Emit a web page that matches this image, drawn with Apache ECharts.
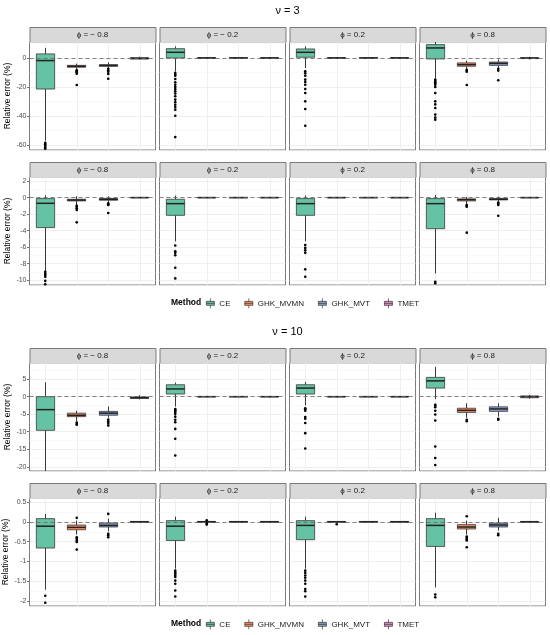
<!DOCTYPE html>
<html>
<head>
<meta charset="utf-8">
<script src="https://cdn.jsdelivr.net/npm/echarts@6/dist/echarts.min.js"></script>
<style>
html, body { margin: 0; padding: 0; background: #fff; }
#chart { width: 550px; height: 635px; }
</style>
</head>
<body>
<div id="chart"></div>
<script>
// methods and facet labels
const methods = ['CE', 'GHK_MVMN', 'GHK_MVT', 'TMET'];
const methodColors = ['#66C2A5', '#FC8D62', '#8DA0CB', '#E78AC3'];
const phiLabels = ['ϕ = − 0.8', 'ϕ = − 0.2', 'ϕ = 0.2', 'ϕ = 0.8'];
const nuLabels = ['ν = 3', 'ν = 10'];

// y ranges per facet row
const rangeR1 = [-63.4, 11];
const rangeR2 = [-10.6, 2.5];
const rangeR3 = [-21.2, 9.6];
const rangeR4 = [-2.12, 0.6];

// boxes: [lower whisker, Q1, median, Q3, upper whisker], panel -> method
const boxesR1 = [
  [[-57, -21.4, -1.8, 2.8, 6.9], [-8, -6.4, -5.7, -5.1, -3.9], [-6.9, -5.7, -5.2, -4.6, -3], [-1.0, -0.7, -0.3, 0.2, 0.9]],
  [[-9.2, 0, 3.9, 6.4, 8], [-0.4, -0.15, 0, 0.15, 0.4], [-0.4, -0.15, 0, 0.15, 0.4], [-0.4, -0.15, 0, 0.15, 0.4]],
  [[-6.9, 0.5, 3.9, 6.2, 8], [-0.4, -0.15, 0, 0.15, 0.4], [-0.4, -0.15, 0, 0.15, 0.4], [-0.4, -0.15, 0, 0.15, 0.4]],
  [[-13.8, -0.7, 6.9, 9.2, 11.5], [-7.4, -5.7, -4.6, -3.4, -1.8], [-6.9, -5.1, -3.7, -2.8, -1.1], [-1.0, -0.4, -0.1, 0.2, 0.8]]
];
const boxesR2 = [
  [[-8.9, -3.64, -0.69, -0.12, 0.28], [-0.9, -0.4, -0.3, -0.2, 0.16], [-0.6, -0.32, -0.2, -0.12, 0.16], [-0.05, -0.02, 0, 0.02, 0.05]],
  [[-5.3, -2.15, -0.73, -0.2, 0.24], [-0.05, -0.02, 0, 0.02, 0.05], [-0.05, -0.02, 0, 0.02, 0.05], [-0.05, -0.02, 0, 0.02, 0.05]],
  [[-5.3, -2.15, -0.73, -0.12, 0.24], [-0.05, -0.02, 0, 0.02, 0.05], [-0.05, -0.02, 0, 0.02, 0.05], [-0.05, -0.02, 0, 0.02, 0.05]],
  [[-9.2, -3.77, -0.73, -0.12, 0.32], [-0.8, -0.4, -0.25, -0.16, 0.08], [-0.5, -0.28, -0.2, -0.12, 0.12], [-0.05, -0.02, 0, 0.02, 0.05]]
];
const boxesR3 = [
  [[-21.5, -9.6, -3.7, 0, 4.1], [-7.0, -5.7, -5.3, -4.7, -4.0], [-6.0, -5.3, -4.7, -4.2, -2.8], [-0.8, -0.5, -0.3, -0.1, 0.4]],
  [[-2.8, 0.75, 2.2, 3.4, 4.0], [-0.15, -0.05, 0, 0.05, 0.15], [-0.15, -0.05, 0, 0.05, 0.15], [-0.15, -0.05, 0, 0.05, 0.15]],
  [[-2.5, 0.75, 2.45, 3.4, 4.2], [-0.15, -0.05, 0, 0.05, 0.15], [-0.15, -0.05, 0, 0.05, 0.15], [-0.15, -0.05, 0, 0.05, 0.15]],
  [[-0.7, 2.45, 4.5, 5.5, 8.5], [-6.0, -4.5, -3.9, -3.3, -1.9], [-5.7, -4.2, -3.5, -2.9, -1.9], [-0.6, -0.3, 0, 0.2, 0.5]]
];
const boxesR4 = [
  [[-1.71, -0.66, -0.11, 0.08, 0.2], [-0.32, -0.2, -0.14, -0.08, 0.03], [-0.24, -0.13, -0.09, -0.03, 0.08], [-0.02, -0.01, 0, 0.01, 0.02]],
  [[-1.18, -0.47, -0.11, 0.03, 0.13], [-0.02, -0.01, 0, 0.01, 0.02], [-0.02, -0.01, 0, 0.01, 0.02], [-0.02, -0.01, 0, 0.01, 0.02]],
  [[-1.18, -0.45, -0.09, 0.03, 0.13], [-0.02, -0.01, 0, 0.01, 0.02], [-0.02, -0.01, 0, 0.01, 0.02], [-0.02, -0.01, 0, 0.01, 0.02]],
  [[-1.65, -0.62, -0.09, 0.08, 0.23], [-0.32, -0.18, -0.13, -0.07, 0.03], [-0.22, -0.13, -0.08, -0.03, 0.1], [-0.02, -0.01, 0, 0.01, 0.02]]
];

// outliers, panel -> method -> values
const outliersR1 = [
  [[-58.5, -59.5, -60.5, -61.5, -62.5], [-8.5, -9, -9.5, -10, -10.8, -18.6], [-7.5, -8.5, -9.5, -11, -14.3], []],
  [[-10.3, -11.5, -12.2, -14.5, -16.8, -18.5, -20, -21.4, -23, -24.5, -26.4, -28.7, -30.5, -32.2, -33.8, -35.6, -39.8, -54.5], [], [], []],
  [[-9.2, -10.5, -12.2, -14.9, -16.5, -18.4, -21.4, -24.1, -29.9, -35.2, -46.7], [], [], []],
  [[-14.9, -15.8, -16.8, -17.6, -18.4, -20, -24.1, -29.9, -32, -34.5, -39, -41, -42.5], [-8.2, -8.8, -9.5, -18.6], [-7.5, -8.7, -15.4], []]
];
const outliersR2 = [
  [[-9.0, -9.2, -9.4, -9.6, -10.1, -10.5], [-1.0, -1.1, -1.3, -1.5, -3.0], [-0.7, -0.8, -0.9, -1.86], []],
  [[-5.8, -6.5, -6.7, -7.0, -8.5, -9.8], [], [], []],
  [[-5.75, -6.1, -6.4, -6.7, -8.7, -9.6], [], [], []],
  [[-10.2, -10.4], [-0.9, -1.0, -1.1, -4.25], [-0.6, -0.7, -0.9, -2.2], []]
];
const outliersR3 = [
  [[], [-7.4, -7.8, -8.0], [-6.5, -7.0, -7.5, -8.2], []],
  [[-3.5, -3.8, -4.0, -4.4, -4.9, -5.7, -6.6, -7.3, -9.2, -12, -16.8], [], [], []],
  [[-3.3, -3.6, -4.0, -5.8, -6.3, -7.5, -10.4, -14.8], [], [], []],
  [[-2.3, -2.6, -3.0, -4.0, -5.1, -6.8, -14.2, -17.5, -19.5], [-6.6, -7.0], [-6.3, -6.6], []]
];
const outliersR4 = [
  [[-1.86, -2.04], [0.1, -0.39, -0.43, -0.47, -0.51, -0.7], [0.2, -0.3, -0.34, -0.39], []],
  [[-1.23, -1.28, -1.31, -1.35, -1.39, -1.48, -1.56, -1.73, -1.88], [0.04, -0.04, -0.07], [], []],
  [[-1.23, -1.29, -1.35, -1.41, -1.48, -1.56, -1.69, -1.75, -1.88], [-0.06], [], []],
  [[-1.83, -1.9], [0.14, -0.37, -0.4, -0.44, -0.47, -0.64], [-0.3, -0.34], []]
];

const rows = [
  { range: rangeR1, split: 4, boxes: boxesR1, outs: outliersR1 },
  { range: rangeR2, split: 6, boxes: boxesR2, outs: outliersR2 },
  { range: rangeR3, split: 6, boxes: boxesR3, outs: outliersR3 },
  { range: rangeR4, split: 5, boxes: boxesR4, outs: outliersR4 }
];

// layout
const font = '"Liberation Sans", Arial, "DejaVu Sans", sans-serif';
const panelLeft = [29.5, 159.5, 289.5, 419.5];
const panelW = 126;
const stripTop = [27, 162, 348, 483];
const stripH = 15;
const plotH = 108;
const legendTop = [298, 619];
const titleY = [11, 332];

// ggplot-like box: no whisker caps, thick median
function renderBox(params, api) {
  const x = api.value(0);
  const lo = api.coord([x, api.value(1)]);
  const q1 = api.coord([x, api.value(2)]);
  const md = api.coord([x, api.value(3)]);
  const q3 = api.coord([x, api.value(4)]);
  const hi = api.coord([x, api.value(5)]);
  const w = api.size([1, 0])[0] * 0.58;
  const cx = Math.round(q1[0] - 0.5) + 0.5;
  const edge = '#3a3a3a';
  return {
    type: 'group',
    children: [
      { type: 'line', shape: { x1: cx, y1: lo[1], x2: cx, y2: q1[1] }, style: { stroke: edge, lineWidth: 1 } },
      { type: 'line', shape: { x1: cx, y1: q3[1], x2: cx, y2: hi[1] }, style: { stroke: edge, lineWidth: 1 } },
      { type: 'rect', shape: { x: cx - w / 2, y: q3[1], width: w, height: q1[1] - q3[1] },
        style: { fill: api.visual('color'), stroke: edge, lineWidth: 0.8 } },
      { type: 'line', shape: { x1: cx - w / 2, y1: md[1], x2: cx + w / 2, y2: md[1] }, style: { stroke: '#222', lineWidth: 1.5 } }
    ]
  };
}

const grids = [];
const xAxes = [];
const yAxes = [];
const series = [];
const graphics = [];

rows.forEach((row, r) => {
  for (let c = 0; c < 4; c++) {
    const g = r * 4 + c;
    const top = stripTop[r] + stripH;
    grids.push({
      left: panelLeft[c], top: top, width: panelW, height: plotH,
      show: true, borderColor: '#7a7a7a', borderWidth: 1, backgroundColor: '#fff',
      containLabel: false, outerBoundsMode: 'none'
    });
    xAxes.push({
      type: 'category', gridIndex: g, data: methods, boundaryGap: true,
      axisLine: { show: false }, axisTick: { show: false }, axisLabel: { show: false }, splitLine: { show: false }
    });
    yAxes.push({
      type: 'value', gridIndex: g, min: row.range[0], max: row.range[1], splitNumber: row.split,
      name: c === 0 ? 'Relative error (%)' : '', nameLocation: 'middle', nameGap: 17, nameRotate: 90,
      nameTextStyle: { fontSize: 8.5, color: '#000', fontFamily: font },
      axisLine: { show: false },
      axisTick: { show: c === 0, length: 2.5, lineStyle: { color: '#333', width: 0.7 } },
      axisLabel: { show: c === 0, fontSize: 7, color: '#4D4D4D', margin: 3, fontFamily: font,
        showMinLabel: false, showMaxLabel: false },
      splitLine: { show: true, lineStyle: { color: '#EBEBEB', width: 0.8 } },
      minorTick: { show: false, splitNumber: 2 },
      minorSplitLine: { show: true, lineStyle: { color: '#F3F3F3', width: 0.5 } }
    });
    // vertical grid lines at categories, kept under the boxes
    series.push({
      type: 'line', xAxisIndex: g, yAxisIndex: g, data: [], silent: true, z: 1,
      markLine: {
        z: 1, silent: true, symbol: ['none', 'none'], label: { show: false }, animation: false,
        lineStyle: { color: '#EBEBEB', width: 0.8, type: 'solid' },
        data: methods.map(m => ({ xAxis: m }))
      }
    });
    methods.forEach((m, mi) => {
      series.push({
        type: 'custom', name: m, xAxisIndex: g, yAxisIndex: g, clip: true, z: 2,
        itemStyle: { color: methodColors[mi] },
        renderItem: renderBox,
        encode: { x: 0, y: [1, 2, 3, 4, 5] },
        data: [[mi].concat(row.boxes[c][mi])]
      });
    });
    const pts = [];
    row.outs[c].forEach((vals, mi) => vals.forEach(v => pts.push([mi, v])));
    series.push({
      type: 'scatter', xAxisIndex: g, yAxisIndex: g, data: pts, symbolSize: 2.6,
      itemStyle: { color: '#000', opacity: 1 }, z: 3, silent: true, clip: true
    });
    // reference line at 0
    series.push({
      type: 'line', xAxisIndex: g, yAxisIndex: g, data: [], silent: true, z: 4,
      markLine: {
        z: 6, silent: true, symbol: ['none', 'none'], label: { show: false }, animation: false,
        lineStyle: { color: '#666', width: 0.8, type: [4, 3] },
        data: [{ yAxis: 0 }]
      }
    });
    // strip
    graphics.push({
      type: 'rect', left: panelLeft[c], top: stripTop[r],
      shape: { width: panelW, height: stripH },
      style: { fill: '#D9D9D9', stroke: '#7a7a7a', lineWidth: 1 }
    });
    graphics.push({
      type: 'text', x: panelLeft[c] + panelW / 2, y: stripTop[r] + stripH / 2 + 0.5,
      style: { text: phiLabels[c], fill: '#1A1A1A', font: '8px ' + font, textAlign: 'center', textVerticalAlign: 'middle' }
    });
  }
});

[0, 1].forEach(i => {
  graphics.push({
    type: 'text', x: 287.5, y: titleY[i],
    style: { text: nuLabels[i], fill: '#000', font: '11px ' + font, textAlign: 'center', textVerticalAlign: 'middle' }
  });
  graphics.push({
    type: 'text', x: 171, y: legendTop[i] + 5,
    style: { text: 'Method', fill: '#000', font: 'bold 8.5px ' + font, textAlign: 'left', textVerticalAlign: 'middle' }
  });
});

const boxIcon = 'path://M0,3H8V7H0ZM0,5H8M4,0V3M4,7V10';

const option = {
  animation: false,
  backgroundColor: '#fff',
  grid: grids,
  xAxis: xAxes,
  yAxis: yAxes,
  legend: [0, 1].map(i => ({
    data: methods, left: 206, top: legendTop[i], orient: 'horizontal', padding: 0,
    icon: boxIcon, itemWidth: 8, itemHeight: 10, itemGap: 14, selectedMode: false,
    itemStyle: { borderColor: '#333', borderWidth: 0.7 },
    textStyle: { fontSize: 8, color: '#1A1A1A', fontFamily: font }
  })),
  graphic: graphics,
  series: series
};

const chart = echarts.init(document.getElementById('chart'));
chart.setOption(option);
</script>
</body>
</html>
